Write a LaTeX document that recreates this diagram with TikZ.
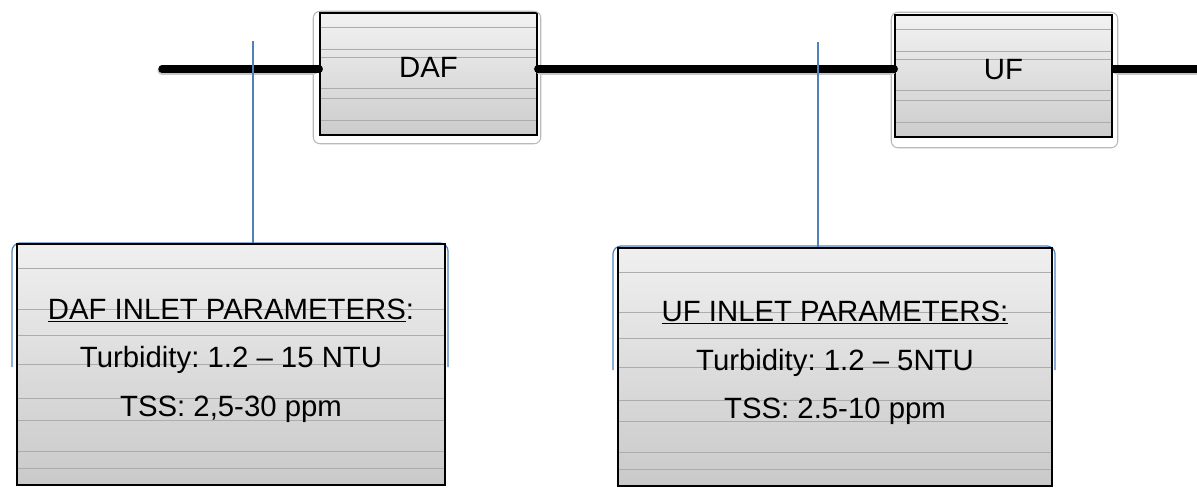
\documentclass[tikz,border=0pt]{standalone}
\usepackage{fontspec}
\setmainfont{Liberation Sans}
\usetikzlibrary{calc}

\definecolor{tapblue}{HTML}{4F81BD}

\tikzset{
    streaks/.style={path picture={
        \foreach \f in {#1}
            \draw[gray!65,line width=0.4pt]
                ($(path picture bounding box.north west)!\f!(path picture bounding box.south west)$) --
                ($(path picture bounding box.north east)!\f!(path picture bounding box.south east)$);
    }},
    unitbox/.style={draw=black,line width=1.1pt,top color=gray!10,bottom color=gray!40,
        minimum width=162.75pt,minimum height=91.5pt,inner sep=0pt,text depth=10pt,
        streaks={0.12,0.3,0.36,0.62,0.7,0.88}},
    parambox/.style={draw=black,line width=1.1pt,top color=gray!12,bottom color=gray!42,
        inner sep=0pt,align=center,text depth=10.5pt,font=\fontsize{22}{36.5}\selectfont,
        streaks={0.1,0.27,0.38,0.5,0.64,0.73,0.86,0.93}},
    pipe/.style={line width=5.5pt,line cap=round},
    tapline/.style={draw=tapblue,line width=0.9pt}
}

\begin{document}
\frenchspacing
\begin{tikzpicture}[x=0.75pt,y=-0.75pt,font=\fontsize{22}{26}\selectfont]
    \useasboundingbox (0,0) rectangle (1197,487);

    % process line
    \coordinate (inlet) at (162,69);
    \coordinate (outlet) at (1197,69);
    \node[unitbox] (daf) at (428.5,74) {DAF};
    \node[unitbox] (uf) at (1003.5,76) {UF};

    \draw[gray!55,rounded corners=5pt,line width=0.8pt]
        ($(daf.north west)+(-6,-1)$) rectangle ($(daf.south east)+(3,8)$);
    \draw[gray!55,rounded corners=5pt,line width=0.8pt]
        ($(uf.north west)+(-3,-2)$) rectangle ($(uf.south east)+(5,10)$);

    \draw[pipe,gray!45,line width=7pt] ($(inlet)+(0,1.5)$) -- ($(daf.west)+(-6,-3.5)$);
    \draw[pipe] (inlet) -- (inlet -| daf.west);
    \draw[pipe,gray!45,line width=7pt] ($(daf.east)+(3,-3.5)$) -- ($(uf.west)+(-3,-5.5)$);
    \draw[pipe] (daf.east |- inlet) -- (uf.west |- inlet);
    \draw[pipe,gray!45,line width=7pt] ($(uf.east)+(5,-5.5)$) -- ($(outlet)+(0,1.5)$);
    \draw[pipe,line cap=butt] (uf.east |- inlet) -- (outlet);

    % inlet parameters
    \draw[tapline,rounded corners=6pt] (12,367) |- (448,243) -- (448,367);
    \draw[tapline,rounded corners=6pt] (613,370) |- (1055,246) -- (1055,370);

    \node[parambox,minimum width=321pt,minimum height=180.75pt] (dafin) at (231,364.5)
        {\underline{DAF INLET PARAMETERS}:\\
         Turbidity: 1.2 – 15 NTU\\
         TSS: 2,5-30 ppm};
    \node[parambox,minimum width=325.5pt,minimum height=178.5pt] (ufin) at (835,367)
        {\underline{UF INLET PARAMETERS:}\\
         Turbidity: 1.2 – 5NTU\\
         TSS: 2.5-10 ppm};

    \coordinate (daftap) at (253,41);
    \coordinate (uftap) at (818,42);
    \draw[tapline] (daftap) -- (daftap |- dafin.north);
    \draw[tapline] (uftap) -- (uftap |- ufin.north);
\end{tikzpicture}
\end{document}
